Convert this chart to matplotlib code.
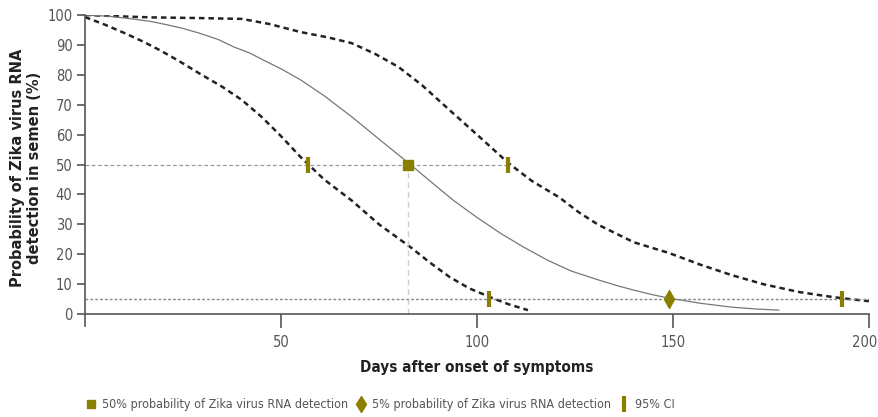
import matplotlib
matplotlib.use("Agg")
import matplotlib.pyplot as plt
import matplotlib.transforms as mtransforms
from matplotlib.lines import Line2D

# median survival curve
median_days = [0, 6, 12, 17, 21, 25, 29, 34, 38, 42, 46, 50, 55, 61, 68, 75, 83, 88, 94,
               100, 106, 112, 118, 124, 131, 136, 140, 145, 149, 157, 165, 171, 177]
median_prob = [100, 99.6, 98.7, 97.8, 96.7, 95.5, 94, 91.8, 89.3, 87.3, 84.6, 82, 78.3, 73,
               66, 58.5, 50, 44.5, 38, 32.3, 27, 22.3, 18, 14.4, 11.4, 9.4, 8, 6.4, 5.3,
               3.6, 2.3, 1.7, 1.3]

# lower 95% CI bound
lower_days = [0, 5, 10, 15, 19, 24, 29, 35, 40, 45, 50, 55, 61, 68, 75, 83, 88, 93, 98,
              104, 108, 113]
lower_prob = [99.3, 96.8, 94, 91, 88.3, 84.6, 80.6, 76, 71.6, 66, 59.5, 52.5, 45, 38, 30,
              22.4, 17.2, 12.4, 8.6, 5.3, 3.3, 1.3]

# upper 95% CI bound
upper_days = [0, 10, 17, 28, 40, 47, 55, 62, 68, 74, 80, 86, 93, 100, 108, 114, 121, 126,
              131, 140, 149, 157, 165, 173, 182, 188, 193, 200]
upper_prob = [100, 99.5, 99.2, 99, 98.7, 97, 94.3, 92.5, 90.6, 87, 82.6, 76.5, 68.2, 60,
              50.5, 44.5, 39, 34, 29.8, 24, 20.4, 16.5, 13, 10, 7.4, 6.2, 5.3, 4.3]

# key points
p50_day = 82.5
p50_ci = [57, 108]
p5_day = 149
p5_ci = [103, 193]

olive = '#8a7f00'
grey = '#555555'
cond = dict(family='DejaVu Sans', stretch='condensed')

fig = plt.figure(figsize=(8.79, 4.17), dpi=100)
ax = fig.add_axes([85 / 879, 1 - 326 / 417, 784 / 879, 311 / 417])

ax.plot(upper_days, upper_prob, color='#222222', lw=1.8, ls=(0, (2.2, 1.6)))
ax.plot(lower_days, lower_prob, color='#222222', lw=1.8, ls=(0, (2.2, 1.6)))
ax.plot(median_days, median_prob, color='#777777', lw=0.9)

# reference lines
ax.plot([0, p50_ci[1]], [50, 50], color='#999999', lw=0.9, ls=(0, (3, 2)))
ax.plot([p50_day, p50_day], [0, 50], color='#cccccc', lw=1, ls=(0, (4, 3)))
ax.plot([0, 200], [5, 5], color='#888888', lw=1, ls=(0, (2, 1.5)))

ax.plot([p50_day], [50], 's', color=olive, ms=7)
ax.plot([p5_day], [5], 'd', color=olive, ms=9)
ax.plot(p50_ci, [50, 50], '|', color=olive, ms=12, mew=3)
ax.plot(p5_ci, [5, 5], '|', color=olive, ms=12, mew=3)

ax.set_xlim(0, 200)
ax.set_ylim(-4, 100)
ax.set_xticks([50, 100, 150, 200])
ax.set_yticks(range(0, 101, 10))
for s in ['top', 'right']:
    ax.spines[s].set_visible(False)
ax.spines['bottom'].set_position(('data', 0))
for s in ['left', 'bottom']:
    ax.spines[s].set_color(grey)
    ax.spines[s].set_linewidth(1.2)
ax.tick_params(axis='y', length=6, width=1.2, color=grey, labelcolor=grey, labelsize=10.5, pad=3)
ax.tick_params(axis='x', length=10, width=1.2, color=grey, labelcolor=grey, labelsize=10.5, pad=5)
for lab in ax.get_xticklabels() + ax.get_yticklabels():
    lab.set_family('DejaVu Sans')
    lab.set_stretch('condensed')
# keep the last x label inside the figure
last = ax.get_xticklabels()[-1]
last.set_transform(last.get_transform() +
                   mtransforms.ScaledTranslation(-4 / 100, 0, fig.dpi_scale_trans))

ax.set_xlabel('Days after onset of symptoms', fontsize=11, fontweight='bold',
              color='#222222', **cond)
ax.xaxis.set_label_coords(0.5, -0.11)
ax.set_ylabel('Probability of Zika virus RNA\ndetection in semen (%)', fontsize=10.5,
              fontweight='bold', color='#222222', linespacing=1.15)
ax.yaxis.set_label_coords(-0.055, 0.51)

handles = [
    Line2D([], [], ls='none', marker='s', color=olive, ms=6),
    Line2D([], [], ls='none', marker='d', color=olive, ms=8),
    Line2D([], [], ls='none', marker='|', color=olive, ms=11, mew=3),
]
labels = ['50% probability of Zika virus RNA detection',
          '5% probability of Zika virus RNA detection',
          '95% CI']
fig.legend(handles, labels, loc='center left', bbox_to_anchor=(0.085, 0.03), ncol=3,
           frameon=False, handlelength=0.8, handletextpad=0.5, columnspacing=0.6,
           prop=dict(size=9, **cond), labelcolor=grey)

fig.savefig('out.png', dpi=100)
